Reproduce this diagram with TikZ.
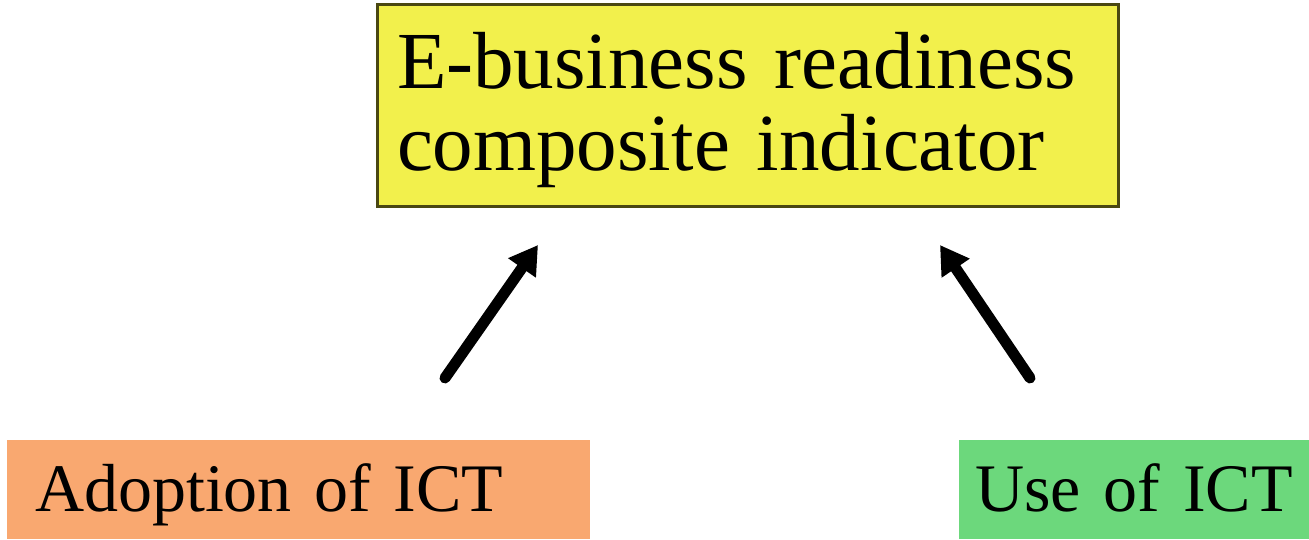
\documentclass[tikz,border=0pt]{standalone}
\usepackage{fontspec}
\setmainfont{Liberation Serif}
\usetikzlibrary{arrows.meta}
\definecolor{ebryellow}{HTML}{F2F04C}
\definecolor{ebrborder}{HTML}{4A4812}
\definecolor{adoptorange}{HTML}{F9A870}
\definecolor{usegreen}{HTML}{6CD87C}
\tikzset{
  indicatorbox/.style={draw=ebrborder, line width=3pt, fill=ebryellow,
    minimum width=741pt, minimum height=202pt, text width=701pt,
    inner xsep=20pt, align=left, font=\fontsize{81}{82}\selectfont},
  factorbox/.style={minimum height=99pt, inner ysep=0pt,
    text height=50pt, text depth=7pt,
    font=\fontsize{68}{70}\selectfont},
  feeds/.style={line width=11pt, line cap=round,
    -{Triangle[length=28pt,width=32pt]}}
}
\begin{document}
\begin{tikzpicture}[x=1pt,y=-1pt]
\useasboundingbox (0,0) rectangle (1309,539);
\node[indicatorbox] (ebr) at (747.5,105)
  {\rule{0pt}{66pt}E-business readiness\\composite indicator};
\node[factorbox, fill=adoptorange, minimum width=583pt, text width=527pt,
  inner xsep=28pt, align=left] (adopt) at (298.5,489.5) {Adoption of ICT};
\node[factorbox, fill=usegreen, minimum width=350pt, text width=330pt,
  inner xsep=10pt, align=center] (use) at (1134,489.5) {Use of ICT};
\coordinate (adoptTail) at (445,378);
\coordinate (adoptHead) at (538,245);
\coordinate (useTail) at (1030,378);
\coordinate (useHead) at (940,245);
\draw[feeds] (adoptTail) -- (adoptHead);
\draw[feeds] (useTail) -- (useHead);
\end{tikzpicture}
\end{document}
